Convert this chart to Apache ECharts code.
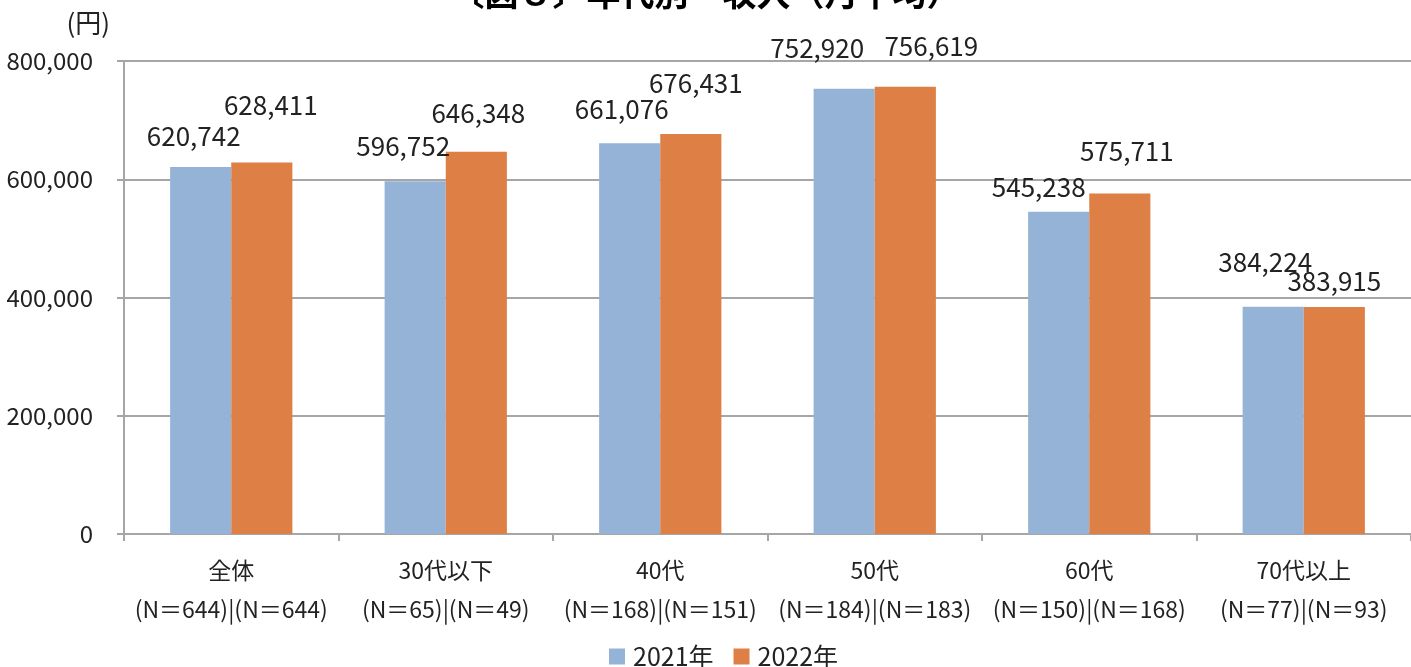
<!DOCTYPE html>
<html>
<head>
<meta charset="utf-8">
<script src="https://cdn.jsdelivr.net/npm/echarts@6/dist/echarts.min.js"></script>
<style>
  html, body { margin: 0; padding: 0; background: #fff; }
  #chart { width: 1411px; height: 667px; }
</style>
</head>
<body>
<div id="chart"></div>
<script>
// Age groups and sample sizes (2021 | 2022)
const categories = ['全体', '30代以下', '40代', '50代', '60代', '70代以上'];
const sampleSizes = ['(N＝644)|(N＝644)', '(N＝65)|(N＝49)', '(N＝168)|(N＝151)', '(N＝184)|(N＝183)', '(N＝150)|(N＝168)', '(N＝77)|(N＝93)'];
// Monthly average income (yen)
const income2021 = [620742, 596752, 661076, 752920, 545238, 384224];
const income2022 = [628411, 646348, 676431, 756619, 575711, 383915];
const seriesNames = ['2021年', '2022年'];
const yTicks = [0, 200000, 400000, 600000, 800000];

// Hand-placed label nudges [dx, dy] for each bar
const labelShift2021 = [[-7, -13], [-12, -17], [-8, -16], [-27, -23], [-20, -7], [-8, -27]];
const labelShift2022 = [[9, -39], [2, -21], [5, -33], [26, -23], [7, -24], [0, -8]];

const FONT = '"Noto Sans CJK JP", "Noto Sans", sans-serif';
const fmt = v => String(v).replace(/\B(?=(\d{3})+(?!\d))/g, ',');

function buildData(values, shifts) {
  return values.map((v, i) => ({
    value: v,
    label: { offset: shifts[i] }
  }));
}

const chart = echarts.init(document.getElementById('chart'));
chart.setOption({
  animation: false,
  textStyle: { fontFamily: FONT },
  title: {
    text: '〔図８〕年代別　収入（月平均）',
    left: 'center',
    top: -29,
    padding: [5, 5, 5, 25],
    textStyle: { fontFamily: FONT, fontSize: 34, fontWeight: 'bold', color: '#000' }
  },
  legend: {
    bottom: -7,
    left: 604,
    itemWidth: 16,
    itemHeight: 16,
    itemGap: 20,
    icon: 'rect',
    textStyle: { fontFamily: FONT, fontSize: 25, color: '#222', padding: [0, 0, 0, 3] },
    data: seriesNames
  },
  grid: { left: 124, top: 61, width: 1290, bottom: 133, containLabel: false },
  xAxis: {
    type: 'category',
    data: categories.map((c, i) => c + '\n' + sampleSizes[i]),
    axisLine: { lineStyle: { color: '#a6a6a6', width: 2 } },
    axisTick: { show: true, length: 7, lineStyle: { color: '#a6a6a6', width: 2 } },
    axisLabel: { fontFamily: FONT, fontSize: 23, color: '#222', lineHeight: 39, margin: 17, interval: 0 }
  },
  yAxis: {
    type: 'value',
    min: yTicks[0],
    max: yTicks[yTicks.length - 1],
    interval: yTicks[1] - yTicks[0],
    name: '(円)',
    nameLocation: 'end',
    nameGap: 25,
    nameTextStyle: { fontFamily: FONT, fontSize: 26, color: '#222', align: 'right', padding: [0, 14, 0, 0] },
    axisLine: { show: true, lineStyle: { color: '#a6a6a6', width: 2 } },
    axisTick: { show: true, length: 7, lineStyle: { color: '#a6a6a6', width: 2 } },
    axisLabel: { fontFamily: FONT, fontSize: 24, color: '#222', margin: 31, formatter: v => fmt(v) },
    splitLine: { lineStyle: { color: '#a6a6a6', width: 2 } }
  },
  series: [
    {
      name: seriesNames[0],
      type: 'bar',
      barGap: '0%',
      barCategoryGap: '43%',
      itemStyle: { color: '#95b3d7' },
      label: { show: true, position: 'top', fontFamily: FONT, fontSize: 26, color: '#222', formatter: p => fmt(p.value) },
      data: buildData(income2021, labelShift2021)
    },
    {
      name: seriesNames[1],
      type: 'bar',
      barGap: '0%',
      barCategoryGap: '43%',
      itemStyle: { color: '#de7f46' },
      label: { show: true, position: 'top', fontFamily: FONT, fontSize: 26, color: '#222', formatter: p => fmt(p.value) },
      data: buildData(income2022, labelShift2022)
    }
  ]
});
</script>
</body>
</html>
